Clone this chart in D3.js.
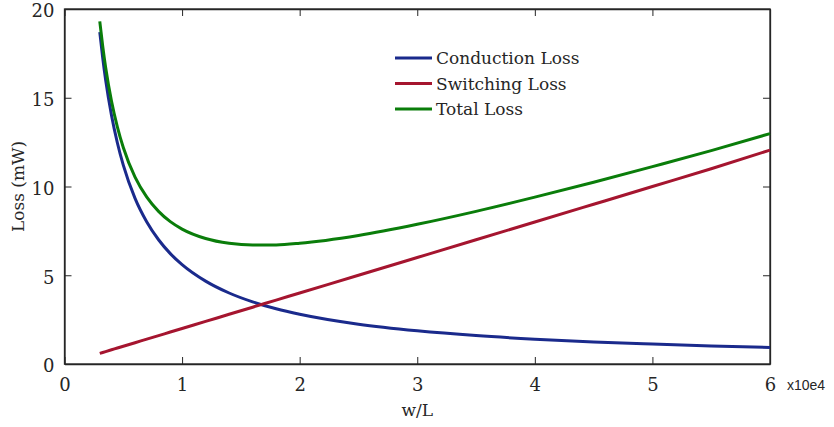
<!DOCTYPE html>
<html>
<head>
<meta charset="utf-8">
<script src="https://cdn.jsdelivr.net/npm/d3@7"></script>
<style>
  body { margin: 0; background: #fff; }
  text { font-family: "DejaVu Serif", serif; fill: #262626; }
</style>
</head>
<body>
<div id="chart"></div>
<script>
// Values (x in units of 1e4)
const wl = [0.3, 0.325, 0.35, 0.4, 0.45, 0.5, 0.6, 0.7, 0.8, 0.9, 1.0, 1.2, 1.4, 1.6, 1.8, 2.0, 2.5, 3.0, 3.5, 4.0, 4.5, 5.0, 5.5, 6.0];
const conduction = [18.7, 17.25, 16.0, 14.0, 12.45, 11.2, 9.33, 8.0, 7.0, 6.22, 5.6, 4.67, 4.0, 3.5, 3.11, 2.8, 2.24, 1.87, 1.6, 1.4, 1.24, 1.12, 1.02, 0.93];
const switching = [0.6, 0.65, 0.7, 0.8, 0.9, 1.0, 1.2, 1.4, 1.6, 1.8, 2.0, 2.4, 2.8, 3.2, 3.6, 4.0, 5.0, 6.0, 7.0, 8.0, 9.0, 10.0, 11.0, 12.05];
const total = [19.3, 17.9, 16.7, 14.8, 13.35, 12.2, 10.53, 9.4, 8.6, 8.02, 7.6, 7.07, 6.8, 6.7, 6.71, 6.8, 7.24, 7.87, 8.6, 9.4, 10.24, 11.12, 12.02, 12.98];
const seriesNames = ["Conduction Loss", "Switching Loss", "Total Loss"];
const xTicks = [0, 1, 2, 3, 4, 5, 6];
const yTicks = [0, 5, 10, 15, 20];

const colors = {
    conduction: "#1a2a8c",
    switching: "#a5152f",
    total: "#0a7d0a"
};

const W = 834, H = 427;
const margin = { top: 9, right: 64, bottom: 63, left: 64.5 };
const width = W - margin.left - margin.right;
const height = H - margin.top - margin.bottom;

const svg = d3.select("#chart").append("svg")
    .attr("width", W)
    .attr("height", H);

const g = svg.append("g")
    .attr("transform", `translate(${margin.left},${margin.top})`);

const x = d3.scaleLinear().domain([0, 6]).range([0, width]);
const y = d3.scaleLinear().domain([0, 20]).range([height, 0]);

// axes, ticks pointing inward
const tickLen = 7;
g.append("g")
    .attr("transform", `translate(0,${height})`)
    .call(d3.axisBottom(x).tickValues(xTicks).tickFormat(d3.format("d")).tickSizeInner(-tickLen).tickSizeOuter(0).tickPadding(14))
    .call(a => a.selectAll("text").attr("font-size", 18));
g.append("g")
    .call(d3.axisTop(x).tickValues(xTicks).tickSizeInner(-tickLen).tickSizeOuter(0).tickFormat(""));
g.append("g")
    .call(d3.axisLeft(y).tickValues(yTicks).tickFormat(d3.format("d")).tickSizeInner(-tickLen).tickSizeOuter(0).tickPadding(10))
    .call(a => a.selectAll("text").attr("font-size", 18).attr("dy", "0.44em"));
g.append("g")
    .attr("transform", `translate(${width},0)`)
    .call(d3.axisRight(y).tickValues(yTicks).tickSizeInner(-tickLen).tickSizeOuter(0).tickFormat(""));

g.selectAll(".domain").attr("stroke", "#262626").attr("stroke-width", 1.3);
g.selectAll(".tick line").attr("stroke", "#262626").attr("stroke-width", 1);

// frame
g.append("rect")
    .attr("width", width).attr("height", height)
    .attr("fill", "none").attr("stroke", "#262626").attr("stroke-width", 1.3);

// labels
svg.append("text")
    .attr("x", margin.left + x(3)).attr("y", 416)
    .attr("text-anchor", "middle").attr("font-size", 17)
    .text("w/L");
svg.append("text")
    .attr("transform", `translate(24,${margin.top + y(10)}) rotate(-90)`)
    .attr("text-anchor", "middle").attr("font-size", 17)
    .text("Loss (mW)");
svg.append("text")
    .attr("x", 787).attr("y", 390)
    .attr("font-size", 14)
    .style("font-family", "'Liberation Sans', Arial, sans-serif")
    .text("x10e4");

// lines
const line = d3.line()
    .x(d => x(d[0]))
    .y(d => y(d[1]))
    .curve(d3.curveMonotoneX);

const series = [
    { name: seriesNames[0], values: conduction, color: colors.conduction },
    { name: seriesNames[1], values: switching, color: colors.switching },
    { name: seriesNames[2], values: total, color: colors.total }
];

g.selectAll(".series")
    .data(series)
    .enter()
    .append("path")
    .attr("d", s => line(wl.map((v, i) => [v, s.values[i]])))
    .attr("fill", "none")
    .attr("stroke", s => s.color)
    .attr("stroke-width", 3);

// legend
const legend = svg.append("g").attr("transform", "translate(395,58)");
series.forEach((s, i) => {
    const row = legend.append("g").attr("transform", `translate(0,${i * 25.5})`);
    row.append("line")
        .attr("x1", 0).attr("x2", 37)
        .attr("stroke", s.color).attr("stroke-width", 3);
    row.append("text")
        .attr("x", 41).attr("y", 6)
        .attr("font-size", 17)
        .text(s.name);
});
</script>
</body>
</html>
